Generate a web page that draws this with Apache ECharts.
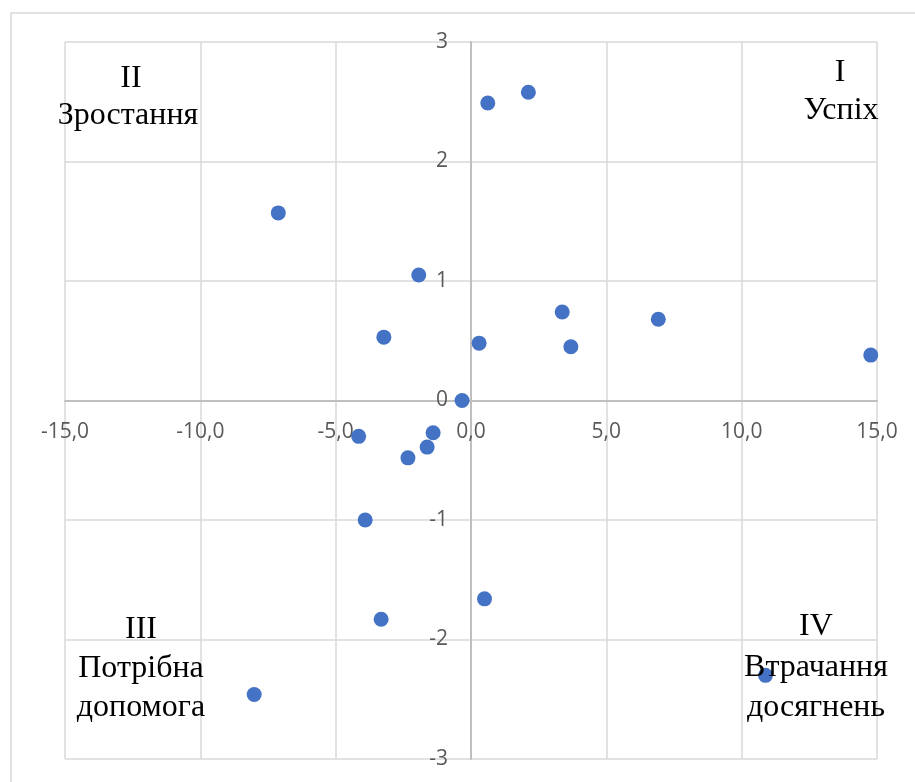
<!DOCTYPE html>
<html>
<head>
<meta charset="utf-8">
<script src="https://cdn.jsdelivr.net/npm/echarts@6/dist/echarts.min.js"></script>
<style>
html,body{margin:0;padding:0;background:#fff;}
#chart{width:915px;height:782px;}
</style>
</head>
<body>
<div id="chart"></div>
<script>
// Data
const xValues = [0.62, 2.12, -7.12, -1.93, -3.22, 0.30, 3.37, 3.69, 6.92, 14.77, -0.33, -4.15, -1.40, -1.62, -2.33, -3.91, 0.50, -3.32, -8.01, 10.88];
const yValues = [2.49, 2.58, 1.57, 1.05, 0.53, 0.48, 0.74, 0.45, 0.68, 0.38, 0.00, -0.30, -0.27, -0.39, -0.48, -1.00, -1.66, -1.83, -2.46, -2.30];
const xTicks = [-15, -10, -5, 0, 5, 10, 15];
const yTicks = [-3, -2, -1, 0, 1, 2, 3];
const quadrantLabels = [
  ['II', 'Зростання'],
  ['I', 'Успіх'],
  ['III', 'Потрібна', 'допомога'],
  ['IV', 'Втрачання', 'досягнень']
];

const points = xValues.map((x, i) => [x, yValues[i]]);

const chart = echarts.init(document.getElementById('chart'), null, {renderer: 'canvas'});

const G = {left: 65, top: 42, width: 812, height: 717};
const xMin = xTicks[0], xMax = xTicks[xTicks.length - 1];
const yMin = yTicks[0], yMax = yTicks[yTicks.length - 1];
// place the axes so they cross at zero
const xAxisOffset = -G.height * (0 - yMin) / (yMax - yMin);
const yAxisOffset = -G.width * (0 - xMin) / (xMax - xMin);

const labelFont = {fontFamily: 'Open Sans', fontSize: 21, color: '#595959'};
const qStyle = {font: '32px "Liberation Serif"', fill: '#000', textAlign: 'center', textVerticalAlign: 'middle'};

function qText(txt, x, y) {
  return {type: 'text', x: x, y: y, z: 100,
    style: Object.assign({text: txt}, qStyle)};
}

chart.setOption({
  animation: false,
  backgroundColor: '#fff',
  grid: Object.assign({containLabel: false, outerBoundsMode: 'none'}, G),
  xAxis: {
    type: 'value', min: xMin, max: xMax, interval: 5, position: 'bottom', offset: xAxisOffset,
    axisLine: {show: true, onZero: false, lineStyle: {color: '#bfbfbf', width: 2}},
    axisTick: {show: false},
    splitLine: {show: true, lineStyle: {color: '#d9d9d9', width: 1.5}},
    axisLabel: Object.assign({margin: 21, formatter: v => v.toFixed(1).replace('.', ',')}, labelFont)
  },
  yAxis: {
    type: 'value', min: yMin, max: yMax, interval: 1, position: 'left', offset: yAxisOffset,
    axisLine: {show: true, onZero: false, lineStyle: {color: '#bfbfbf', width: 2}},
    axisTick: {show: false},
    splitLine: {show: true, lineStyle: {color: '#d9d9d9', width: 1.5}},
    axisLabel: Object.assign({margin: 23, formatter: v => String(v)}, labelFont)
  },
  series: [{
    type: 'scatter', data: points, symbolSize: 15,
    itemStyle: {color: '#4472C4', opacity: 1}
  }],
  graphic: [
    {type: 'rect', z: -10, shape: {x: 11, y: 13, width: 2000, height: 2000},
      style: {fill: 'none', stroke: '#d9d9d9', lineWidth: 1.5}},
    qText(quadrantLabels[0][0], 131, 79),
    qText(quadrantLabels[0][1], 128, 116),
    qText(quadrantLabels[1][0], 840, 73),
    qText(quadrantLabels[1][1], 841, 111),
    qText(quadrantLabels[2][0], 141, 630),
    qText(quadrantLabels[2][1], 141, 669),
    qText(quadrantLabels[2][2], 141, 708),
    qText(quadrantLabels[3][0], 816, 627),
    qText(quadrantLabels[3][1], 816, 668),
    qText(quadrantLabels[3][2], 816, 708)
  ]
});
</script>
</body>
</html>
